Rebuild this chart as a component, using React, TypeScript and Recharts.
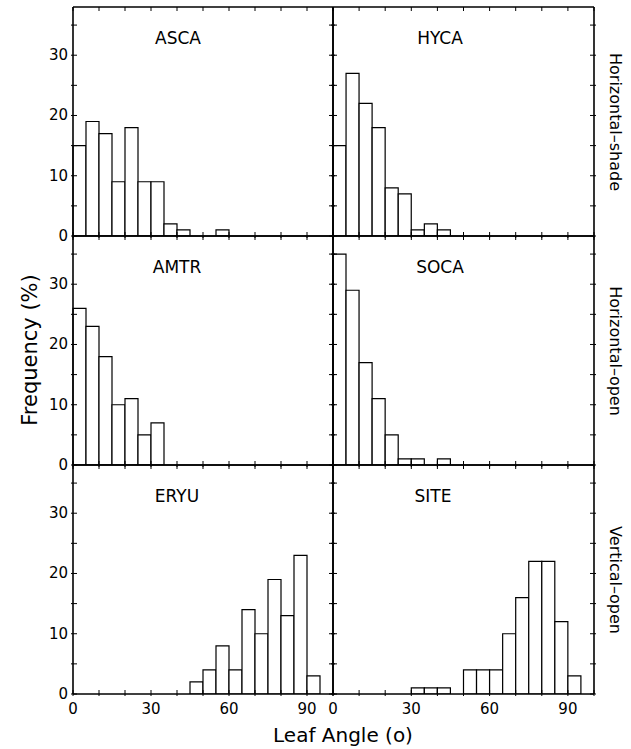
import React from 'react';
import { BarChart, Bar, XAxis, YAxis } from 'recharts';

const binStarts = [0, 5, 10, 15, 20, 25, 30, 35, 40, 45, 50, 55, 60, 65, 70, 75, 80, 85, 90, 95];
const ascaValues = [15, 19, 17, 9, 18, 9, 9, 2, 1, 0, 0, 1, 0, 0, 0, 0, 0, 0, 0, 0];
const hycaValues = [15, 27, 22, 18, 8, 7, 1, 2, 1, 0, 0, 0, 0, 0, 0, 0, 0, 0, 0, 0];
const amtrValues = [26, 23, 18, 10, 11, 5, 7, 0, 0, 0, 0, 0, 0, 0, 0, 0, 0, 0, 0, 0];
const socaValues = [35, 29, 17, 11, 5, 1, 1, 0, 1, 0, 0, 0, 0, 0, 0, 0, 0, 0, 0, 0];
const eryuValues = [0, 0, 0, 0, 0, 0, 0, 0, 0, 2, 4, 8, 4, 14, 10, 19, 13, 23, 3, 0];
const siteValues = [0, 0, 0, 0, 0, 0, 1, 1, 1, 0, 4, 4, 4, 10, 16, 22, 22, 12, 3, 0];

const xTicks = [0, 10, 20, 30, 40, 50, 60, 70, 80, 90, 100];
const xLabelTicks = [0, 30, 60, 90];
const yTicks = [0, 5, 10, 15, 20, 25, 30, 35];
const yLabelTicks = [0, 10, 20, 30];
const rowLabels = ['Horizontal\u2013shade', 'Horizontal\u2013open', 'Vertical\u2013open'];

const FONT = '"DejaVu Sans", sans-serif';
const COLS = [{ x: 73, w: 260 }, { x: 333, w: 261 }];
const ROWS = [{ y: 7, h: 229 }, { y: 236, h: 229 }, { y: 465, h: 229 }];
const M = { top: 10, right: 10, bottom: 30, left: 45 };
const CM = { top: M.top - 1, right: M.right - 1, bottom: M.bottom - 1, left: M.left - 1 };

// labels: 0 = none, 1 = left column (also marks the shared 0 of the right column at 100), 2 = right column
const makeBottomTick = (mode: number) => (props: any) => {
  const { x, y, payload } = props;
  const v = Math.round(Number(payload && payload.value));
  let label: string | null = null;
  if (mode === 1) {
    if (xLabelTicks.indexOf(v) >= 0) label = String(v);
    else if (v === 100) label = '0';
  } else if (mode === 2) {
    if (xLabelTicks.indexOf(v) >= 0 && v !== 0) label = String(v);
  }
  return (
    <g>
      <line x1={x} x2={x} y1={y - 4} y2={y + 2} stroke="#000" strokeWidth={1} />
      {label !== null && (
        <text x={x} y={y + 20} textAnchor="middle" fontSize={15} fontFamily={FONT} fill="#000">{label}</text>
      )}
    </g>
  );
};

const TopTick = (props: any) => {
  const { x, y } = props;
  return <line x1={x} x2={x} y1={y} y2={y + 4} stroke="#000" strokeWidth={1} />;
};

const makeLeftTick = (labels: boolean) => (props: any) => {
  const { x, y, payload } = props;
  const v = Math.round(Number(payload && payload.value));
  return (
    <g>
      <line x1={x - 2} x2={x + 4} y1={y} y2={y} stroke="#000" strokeWidth={1} />
      {labels && yLabelTicks.indexOf(v) >= 0 && (
        <text x={x - 5} y={y + 5} textAnchor="end" fontSize={15} fontFamily={FONT} fill="#000">{String(v)}</text>
      )}
    </g>
  );
};

const RightTick = (props: any) => {
  const { x, y } = props;
  return <line x1={x - 4} x2={x + 2} y1={y} y2={y} stroke="#000" strokeWidth={1} />;
};

function Panel({ values, title, col, row, titleDx }: { values: number[]; title: string; col: number; row: number; titleDx: number }) {
  const c = COLS[col];
  const r = ROWS[row];
  const data = binStarts.map((b, i) => ({ bin: String(b), mid: b + 2.5, v: values[i] }));
  const axisLine = { stroke: '#000', strokeWidth: 1.6 };
  const mode = row === 2 ? (col === 0 ? 1 : 2) : 0;
  return (
    <>
      <div style={{ position: 'absolute', left: c.x - M.left, top: r.y - M.top, zIndex: row * 2 + (1 - col) + 1 }}>
        <BarChart width={c.w + M.left + M.right} height={r.h + M.top + M.bottom} data={data} margin={CM} barCategoryGap={0} barGap={0}>
          <XAxis xAxisId="cat" dataKey="bin" type="category" hide height={0} />
          <XAxis xAxisId="num" dataKey="mid" type="number" domain={[0, 100]} allowDataOverflow ticks={xTicks} interval={0}
            height={1} tickSize={0} tickMargin={0} tickLine={false} axisLine={axisLine} tick={makeBottomTick(mode)} />
          <XAxis xAxisId="top" orientation="top" dataKey="mid" type="number" domain={[0, 100]} allowDataOverflow ticks={xTicks} interval={0}
            height={1} tickSize={0} tickMargin={0} tickLine={false} axisLine={axisLine} tick={TopTick} />
          <YAxis yAxisId="left" type="number" domain={[0, 38]} allowDataOverflow ticks={yTicks} interval={0}
            width={1} tickSize={0} tickMargin={0} tickLine={false} axisLine={axisLine} tick={makeLeftTick(col === 0)} />
          <YAxis yAxisId="right" orientation="right" dataKey="v" type="number" domain={[0, 38]} allowDataOverflow ticks={yTicks} interval={0}
            width={1} tickSize={0} tickMargin={0} tickLine={false} axisLine={axisLine} tick={RightTick} />
          <Bar xAxisId="cat" yAxisId="left" dataKey="v" fill="#fff" stroke="#000" strokeWidth={1.2} isAnimationActive={false} />
        </BarChart>
      </div>
      <div style={{ position: 'absolute', left: c.x + titleDx, top: r.y + 31, transform: 'translate(-50%, -50%)', fontFamily: FONT, fontSize: 17, whiteSpace: 'nowrap', color: '#000', zIndex: 20 }}>{title}</div>
    </>
  );
}

export default function App() {
  return (
    <div style={{ position: 'absolute', left: 0, top: 0, width: 631, height: 749, background: '#fff', overflow: 'hidden' }}>
      <Panel values={ascaValues} title="ASCA" col={0} row={0} titleDx={105} />
      <Panel values={hycaValues} title="HYCA" col={1} row={0} titleDx={107} />
      <Panel values={amtrValues} title="AMTR" col={0} row={1} titleDx={104} />
      <Panel values={socaValues} title="SOCA" col={1} row={1} titleDx={107} />
      <Panel values={eryuValues} title="ERYU" col={0} row={2} titleDx={104} />
      <Panel values={siteValues} title="SITE" col={1} row={2} titleDx={100} />
      <div style={{ position: 'absolute', left: 30, top: 350, transform: 'translate(-50%, -50%) rotate(-90deg)', fontFamily: FONT, fontSize: 21, whiteSpace: 'nowrap' }}>Frequency (%)</div>
      <div style={{ position: 'absolute', left: 343, top: 735, transform: 'translate(-50%, -50%)', fontFamily: FONT, fontSize: 20, whiteSpace: 'nowrap' }}>Leaf Angle (o)</div>
      {rowLabels.map((t, i) => (
        <div key={t} style={{ position: 'absolute', left: 615, top: ROWS[i].y + ROWS[i].h / 2, transform: 'translate(-50%, -50%) rotate(90deg)', fontFamily: FONT, fontSize: 16, whiteSpace: 'nowrap' }}>{t}</div>
      ))}
    </div>
  );
}
